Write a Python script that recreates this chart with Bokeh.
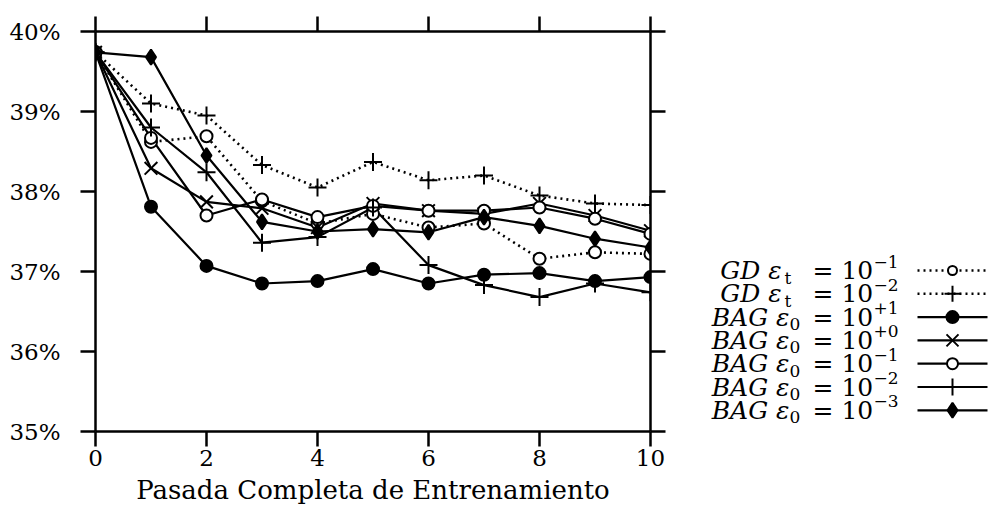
from bokeh.plotting import figure
from bokeh.models import Range1d, FixedTicker, PrintfTickFormatter, LinearAxis, ColumnDataSource
from bokeh.layouts import row
from bokeh.embed import file_html
from bokeh.resources import INLINE
from bokeh.core.properties import value

# ---------------- data (error %, per full training pass) ----------------
passes = [0, 1, 2, 3, 4, 5, 6, 7, 8, 9, 10]
gd_t_1e_1 = [39.74, 38.62, 38.69, 37.88, 37.60, 37.72, 37.55, 37.60, 37.16, 37.24, 37.22]
gd_t_1e_2 = [39.74, 39.10, 38.95, 38.33, 38.05, 38.37, 38.14, 38.20, 37.95, 37.85, 37.83]
bag_0_1e_p1 = [39.74, 37.81, 37.07, 36.85, 36.88, 37.03, 36.85, 36.96, 36.98, 36.88, 36.93]
bag_0_1e_p0 = [39.74, 38.29, 37.87, 37.79, 37.55, 37.85, 37.76, 37.72, 37.85, 37.70, 37.51]
bag_0_1e_m1 = [39.74, 38.67, 37.70, 37.90, 37.68, 37.82, 37.76, 37.76, 37.80, 37.66, 37.47]
bag_0_1e_m2 = [39.74, 38.80, 38.24, 37.36, 37.43, 37.80, 37.08, 36.83, 36.68, 36.85, 36.74]
bag_0_1e_m3 = [39.74, 39.68, 38.45, 37.62, 37.50, 37.53, 37.49, 37.68, 37.57, 37.41, 37.30]

x_ticks = [0, 2, 4, 6, 8, 10]
y_ticks = [35, 36, 37, 38, 39, 40]
x_title = "Pasada Completa de Entrenamiento"

# legend pieces: (italic name part, subscript, exponent)
legend_rows = [
    ("GD  \u03b5", "t", "\u22121"),
    ("GD  \u03b5", "t", "\u22122"),
    ("BAG \u03b5", "0", "+1"),
    ("BAG \u03b5", "0", "+0"),
    ("BAG \u03b5", "0", "\u22121"),
    ("BAG \u03b5", "0", "\u22122"),
    ("BAG \u03b5", "0", "\u22123"),
]

# style per series: (values, dash, marker, fill, size, legend size)
styles = [
    (gd_t_1e_1, "2 4", "circle", "white", 12, 9),
    (gd_t_1e_2, "2 4", "cross", "black", 18, 16),
    (bag_0_1e_p1, "solid", "circle", "black", 12, 12),
    (bag_0_1e_p0, "solid", "x", "black", 18, 17),
    (bag_0_1e_m1, "solid", "circle", "white", 12, 11),
    (bag_0_1e_m2, "solid", "cross", "black", 18, 17),
    (bag_0_1e_m3, "solid", "diamond", "black", 15, 15),
]

FONT = "DejaVu Serif"

# ---------------- main plot ----------------
p = figure(width=700, height=525, x_range=Range1d(0, 10), y_range=Range1d(35, 40),
           output_backend="svg", toolbar_location=None,
           min_border_left=95, min_border_right=50, min_border_top=31, min_border_bottom=94)
p.grid.visible = False
p.outline_line_color = None
p.background_fill_color = "white"
p.border_fill_color = "white"

p.add_layout(LinearAxis(), "above")
p.add_layout(LinearAxis(), "right")

for ax in p.xaxis:
    ax.ticker = FixedTicker(ticks=x_ticks)
for ax in p.yaxis:
    ax.ticker = FixedTicker(ticks=y_ticks)
    ax.formatter = PrintfTickFormatter(format="%d%%")

for ax in p.axis:
    ax.axis_line_width = 2.5
    ax.axis_line_color = "black"
    ax.major_tick_line_width = 2.5
    ax.major_tick_line_color = "black"
    ax.major_tick_out = 15
    ax.major_tick_in = 0
    ax.minor_tick_out = 0
    ax.minor_tick_in = 0
    ax.major_label_text_font = FONT
    ax.major_label_text_font_size = "23px"
    ax.major_label_text_color = "black"

p.above[0].major_label_text_alpha = 0
p.right[0].major_label_text_alpha = 0
p.below[0].major_label_standoff = 3
p.left[0].major_label_standoff = 20

p.below[0].axis_label = x_title
p.below[0].axis_label_text_font = FONT
p.below[0].axis_label_text_font_size = "26px"
p.below[0].axis_label_text_font_style = "normal"
p.below[0].axis_label_text_color = "black"
p.below[0].axis_label_standoff = 6

for vals, dash, marker, fill, size, _ in styles:
    src = ColumnDataSource(dict(x=passes, y=vals))
    p.line("x", "y", source=src, line_color="black", line_width=2.2 if dash == "solid" else 2.6,
           line_dash=dash)
for vals, dash, marker, fill, size, _ in styles:
    src = ColumnDataSource(dict(x=passes, y=vals))
    p.scatter("x", "y", source=src, marker=marker, size=size, line_color="black",
              fill_color=fill, line_width=2)

# ---------------- legend panel (frame aligned with main frame: page y 31..431) ----------------
leg = figure(width=288, height=525, x_range=Range1d(700, 988), y_range=Range1d(431, 31),
             output_backend="svg", toolbar_location=None, x_axis_type=None, y_axis_type=None,
             min_border=0)
leg.grid.visible = False
leg.outline_line_color = None

row_y0, row_dy = 270, 23.3
ys = [row_y0 + i * row_dy for i in range(len(legend_rows))]
sub_x = [784 if r[1] == "t" else 789 for r in legend_rows]

leg.text(x=[789] * len(ys), y=ys, text=[r[0] for r in legend_rows], text_align="right",
         text_baseline="middle", text_font=value(FONT), text_font_style="italic",
         text_font_size="25px", text_color="black")
leg.text(x=sub_x, y=[y + 7 for y in ys], text=[r[1] for r in legend_rows],
         text_align="left", text_baseline="middle", text_font=value(FONT),
         text_font_style="normal", text_font_size="17px", text_color="black")
leg.text(x=[812] * len(ys), y=ys, text=["= 10"] * len(ys), text_align="left",
         text_baseline="middle", text_font=value(FONT), text_font_size="25px", text_color="black")
leg.text(x=[873] * len(ys), y=[y - 9 for y in ys], text=[r[2] for r in legend_rows],
         text_align="left", text_baseline="middle", text_font=value(FONT),
         text_font_size="17px", text_color="black")

for (vals, dash, marker, fill, size, lsize), y in zip(styles, ys):
    leg.line(x=[917, 987], y=[y, y], line_color="black",
             line_width=2.2 if dash == "solid" else 2.6, line_dash=dash)
    leg.scatter(x=[952], y=[y], marker=marker, size=lsize, line_color="black",
                fill_color=fill, line_width=2)

layout = row(p, leg, spacing=0)
open("out.html", "w").write(file_html(layout, INLINE))
